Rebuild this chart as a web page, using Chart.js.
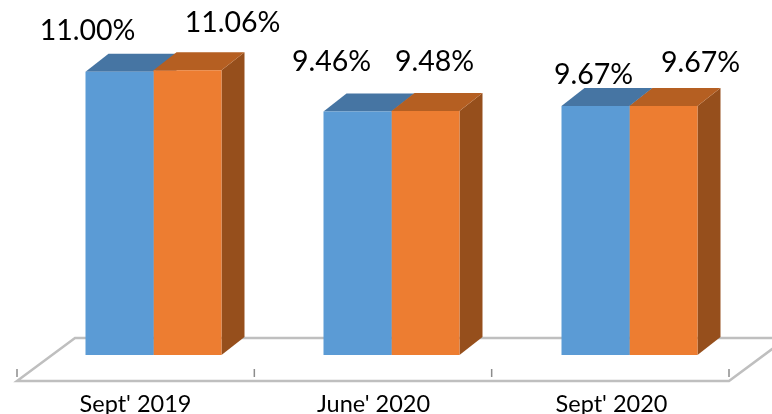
<!DOCTYPE html>
<html>
<head>
<meta charset="utf-8">
<style>
  html, body { margin: 0; padding: 0; background: #fff; }
  canvas { display: block; }
</style>
<script src="https://cdn.jsdelivr.net/npm/chart.js@4"></script>
</head>
<body>
<canvas id="barChart" width="772" height="414"></canvas>
<script>
const categories = ["Sept' 2019", "June' 2020", "Sept' 2020"];
const seriesA = [11.0, 9.46, 9.67];
const seriesB = [11.06, 9.48, 9.67];
const labelsA = ["11.00%", "9.46%", "9.67%"];
const labelsB = ["11.06%", "9.48%", "9.67%"];

// label nudges from the top middle of each bar, the original has them hand placed
const nudgeA = [[-32, -41], [-26, -50], [-2, -31]];
const nudgeB = [[45, -47], [9, -49], [37, -43]];

// fake 3d look
const depthX = 23;
const depthY = 18;
const shiftLeft = 17.5; // bars stand this far right of the floor
const shiftRight = 19.5;
const floorX = 58;
const floorY = 43;

function poly(ctx, pts, color) {
  ctx.fillStyle = color;
  ctx.beginPath();
  pts.forEach((p, i) => (i ? ctx.lineTo(p[0], p[1]) : ctx.moveTo(p[0], p[1])));
  ctx.closePath();
  ctx.fill();
}

const floorAndDepth = {
  id: "floorAndDepth",
  beforeDatasetsDraw(chart) {
    const ctx = chart.ctx;
    const xs = chart.scales.x;
    const bottom = chart.chartArea.bottom;
    const left = xs.left - shiftLeft;
    const right = xs.right - shiftRight;
    const front = bottom + 26;
    const back = front - floorY;

    ctx.save();
    ctx.strokeStyle = "#bfbfbf";
    ctx.lineWidth = 2.5;
    ctx.beginPath();
    ctx.moveTo(left + floorX, back);
    ctx.lineTo(right + floorX, back);
    ctx.lineTo(right, front);
    ctx.lineTo(left, front);
    ctx.closePath();
    ctx.stroke();

    ctx.strokeStyle = "#8c8c8c";
    ctx.lineWidth = 1.5;
    for (let i = 0; i <= categories.length; i++) {
      const tx = left + ((right - left) * i) / categories.length;
      ctx.beginPath();
      ctx.moveTo(tx, front - 12);
      ctx.lineTo(tx, front - 4);
      ctx.stroke();
    }

    const tops = ["#4675a3", "#b55f22"];
    const sides = ["#3b6288", "#964f1c"];
    chart.data.datasets.forEach((ds, d) => {
      chart.getDatasetMeta(d).data.forEach((bar) => {
        const l = bar.x - bar.width / 2;
        const r = bar.x + bar.width / 2;
        poly(ctx, [[r, bar.y], [r + depthX, bar.y - depthY], [r + depthX, bar.base - depthY], [r, bar.base]], sides[d]);
        poly(ctx, [[l, bar.y], [l + depthX, bar.y - depthY], [r + depthX, bar.y - depthY], [r, bar.y]], tops[d]);
      });
    });
    ctx.restore();
  },
  afterDatasetsDraw(chart) {
    const ctx = chart.ctx;
    ctx.save();
    ctx.fillStyle = "#000";
    ctx.font = "28.5px Lato";
    ctx.textAlign = "center";
    ctx.textBaseline = "middle";
    [[labelsA, nudgeA], [labelsB, nudgeB]].forEach((set, d) => {
      chart.getDatasetMeta(d).data.forEach((bar, i) => {
        ctx.fillText(set[0][i], bar.x + set[1][i][0], bar.y + set[1][i][1]);
      });
    });
    ctx.restore();
  },
};

new Chart(document.getElementById("barChart").getContext("2d"), {
  type: "bar",
  data: {
    labels: categories,
    datasets: [
      { label: "A", data: seriesA, backgroundColor: "#5b9bd5" },
      { label: "B", data: seriesB, backgroundColor: "#ed7d31" },
    ],
  },
  options: {
    responsive: false,
    animation: false,
    layout: { padding: { left: 34.5, right: 23.5, top: 46, bottom: 0 } },
    categoryPercentage: 0.5714,
    barPercentage: 1,
    plugins: { legend: { display: false }, tooltip: { enabled: false } },
    scales: {
      x: {
        grid: { display: false },
        border: { display: false },
        afterFit(scale) {
          scale.height = 59;
        },
        ticks: {
          color: "#000",
          font: { family: "Lato", size: 23.5 },
          padding: 27,
          labelOffset: -18,
          maxRotation: 0,
        },
      },
      y: { display: false, min: 0, max: 12 },
    },
  },
  plugins: [floorAndDepth],
});
</script>
</body>
</html>
